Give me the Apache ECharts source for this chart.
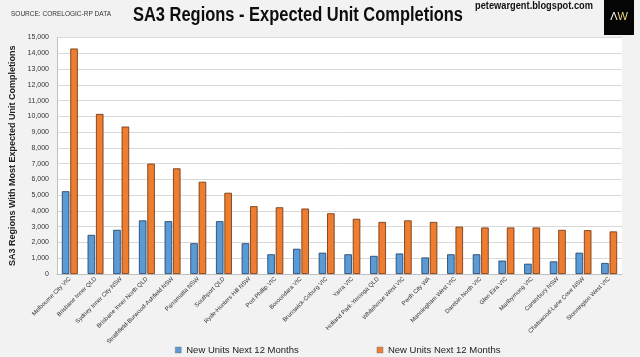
<!DOCTYPE html>
<html><head><meta charset="utf-8">
<script src="https://cdn.jsdelivr.net/npm/echarts@6/dist/echarts.min.js"></script>
<style>html,body{margin:0;padding:0;background:#f2f2f2}#c{width:640px;height:357px}</style>
</head><body><div id="c"></div>
<script>
var categories = ["Melbourne City VIC","Brisbane Inner QLD","Sydney Inner City NSW","Brisbane Inner North QLD","Strathfield-Burwood-Ashfield NSW","Parramatta NSW","Southport QLD","Ryde-Hunters Hill NSW","Port Phillip VIC","Boroondara VIC","Brunswick-Coburg VIC","Yarra VIC","Holland Park-Yeronga QLD","Whitehorse West VIC","Perth City WA","Manningham West VIC","Darebin North VIC","Glen Eira VIC","Maribyrnong VIC","Canterbury NSW","Chatswood-Lane Cove NSW","Stonnington West VIC"];
var blueValues = [5250,2480,2800,3400,3350,1950,3350,1950,1250,1600,1350,1250,1150,1300,1050,1250,1250,850,650,800,1350,700];
var orangeValues = [14300,10150,9350,7000,6700,5850,5150,4300,4230,4150,3850,3500,3300,3400,3300,3000,2950,2950,2950,2800,2780,2700];
var seriesNames = ["New Units Next 12 Months","New Units Next 12 Months "];
var yTicks = {min:0,max:15000,interval:1000};
var FONT = "'Liberation Sans',Arial,sans-serif";

var mc = document.createElement('canvas').getContext('2d');
function fitScale(text, font, width){ mc.font = font; return width / mc.measureText(text).width; }
var titleText = 'SA3 Regions - Expected Unit Completions';
var titleFont = 'bold 19.5px ' + FONT;
var sourceText = 'SOURCE: CORELOGIC-RP DATA';
var sourceFont = '7px ' + FONT;
var blogText = 'petewargent.blogspot.com';
var blogFont = 'bold 10.5px ' + FONT;

var chart = echarts.init(document.getElementById('c'));
chart.setOption({
  backgroundColor:'#f2f2f2',
  animation:false,
  graphic:[
    {type:'text',x:298,y:15.5,scaleX:fitScale(titleText,titleFont,330),
      style:{text:titleText,font:titleFont,fill:'#0d0d0d',textAlign:'center',textVerticalAlign:'middle'}},
    {type:'text',x:11,y:14.5,scaleX:fitScale(sourceText,sourceFont,100),
      style:{text:sourceText,font:sourceFont,fill:'#333',textAlign:'left',textVerticalAlign:'middle'}},
    {type:'text',x:475,y:6.5,scaleX:fitScale(blogText,blogFont,118),
      style:{text:blogText,font:blogFont,fill:'#111',textAlign:'left',textVerticalAlign:'middle'}},
    {type:'rect',shape:{x:604,y:0,width:30,height:35},style:{fill:'#050505'}},
    {type:'text',x:619,y:17,
      style:{text:'{a|Λ}{b|W}',textAlign:'center',textVerticalAlign:'middle',
        rich:{a:{fill:'#f4f1e4',font:'11px '+FONT},b:{fill:'#e6d57a',font:'11px '+FONT}}}}
  ],
  legend:{bottom:2,left:175,padding:0,itemGap:78,itemWidth:6,itemHeight:6,icon:'rect',
    itemStyle:{borderWidth:0.5,borderColor:'#7f7f7f'},
    textStyle:{fontFamily:FONT,fontSize:9.5,color:'#222'},
    data:seriesNames},
  grid:{left:57,right:18,top:37.5,bottom:83,outerBoundsMode:'none',containLabel:false,
    show:true,backgroundColor:'#ffffff',borderWidth:0},
  xAxis:{type:'category',data:categories,
    axisLine:{lineStyle:{color:'#bfbfbf'}},axisTick:{show:false},
    axisLabel:{rotate:45,interval:0,fontFamily:FONT,fontSize:6,color:'#333',margin:4}},
  yAxis:{type:'value',min:yTicks.min,max:yTicks.max,interval:yTicks.interval,
    name:'SA3 Regions With Most Expected Unit Completions',nameLocation:'middle',nameGap:39,
    nameTextStyle:{fontFamily:FONT,fontSize:9,fontWeight:'bold',color:'#222'},
    axisLine:{show:true,lineStyle:{color:'#bfbfbf'}},axisTick:{show:false},
    splitLine:{lineStyle:{color:'#d9d9d9'}},
    axisLabel:{fontFamily:FONT,fontSize:7,color:'#333',margin:8,formatter:function(v){return v.toLocaleString('en-US');}}},
  series:[
    {name:seriesNames[0],type:'bar',data:blueValues,barWidth:7.5,barGap:'12%',
      itemStyle:{color:'#5b9bd5',borderColor:'#1f3a60',borderWidth:0.8}},
    {name:seriesNames[1],type:'bar',data:orangeValues,barWidth:7.5,
      itemStyle:{color:'#ed7d31',borderColor:'#6b2e0a',borderWidth:0.8}}
  ]
});
</script></body></html>
